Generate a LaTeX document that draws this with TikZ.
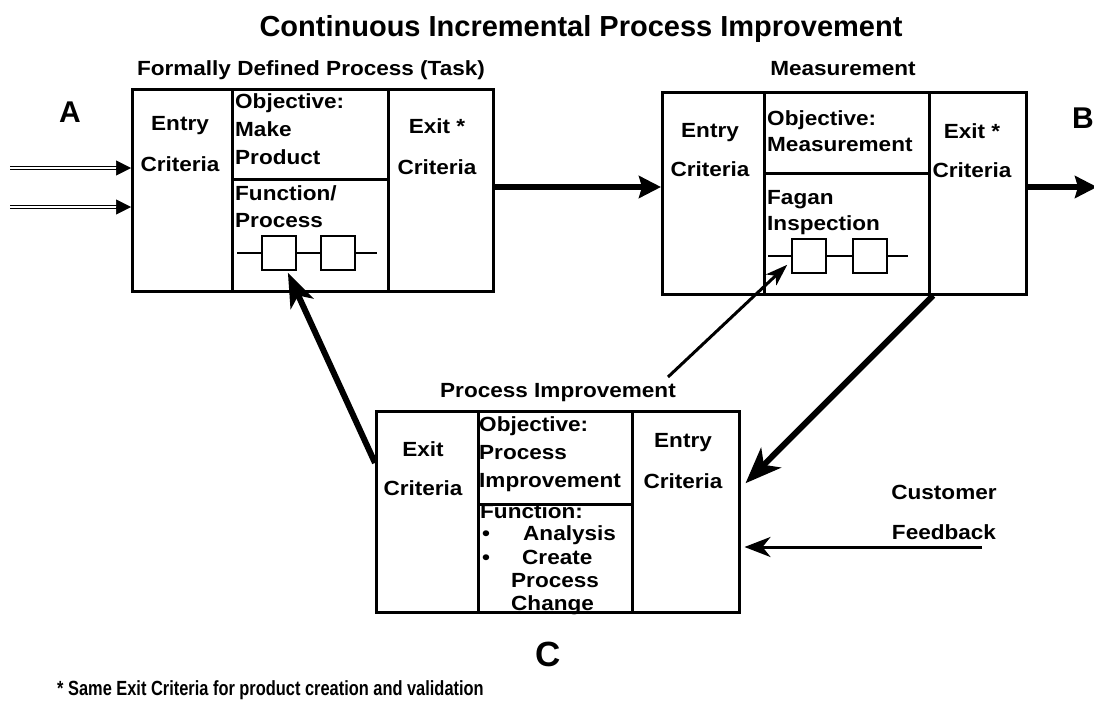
\documentclass[tikz,border=0pt]{standalone}
\usepackage{fontspec}
\setmainfont{Liberation Sans}
\newfontfamily\wide{Liberation Sans}[FakeStretch=1.1]
\newfontfamily\narrow{Liberation Sans}[FakeStretch=0.8]
\usetikzlibrary{positioning,calc,arrows.meta}

\begin{document}
\begin{tikzpicture}[
    x=1pt, y=-1pt,
    cell/.style={draw, line width=2.5pt, inner sep=0pt, anchor=north west},
    sq/.style={draw, line width=1.5pt, minimum size=34pt, inner sep=0pt},
    wire/.style={line width=1.5pt},
    txt/.style={font=\wide\bfseries\fontsize{20.5}{41}\selectfont, inner sep=0pt, align=center, anchor=north},
    obj/.style={font=\wide\bfseries\fontsize{20.5}{28}\selectfont, inner sep=0pt, align=left, anchor=north west},
    lbl/.style={font=\wide\bfseries\fontsize{20.5}{24}\selectfont, inner sep=0pt, anchor=base},
    big/.style={font=\bfseries\fontsize{30}{36}\selectfont, inner sep=0pt},
    fat/.style={line width=6pt, -{Stealth[length=22pt,width=22pt,inset=3pt]}},
    slim/.style={line width=3pt, -{Stealth[length=22pt,width=15pt,inset=6pt]}},
    dbl/.style={double, line width=1.3pt, double distance=2.2pt, shorten >=14pt},
    tipA/.style={line width=0.5pt, -{Triangle[length=15pt,width=15pt]}},
  ]
    \useasboundingbox (0,0) rectangle (1094,704);

    % titles
    \node[font=\bfseries\fontsize{29}{34}\selectfont, anchor=base, inner sep=0pt] (title) at (581,36)
      {Continuous Incremental Process Improvement};
    \node[lbl] (fdp) at (311,75) {Formally Defined Process (Task)};
    \node[lbl] (meas) at (843,75) {Measurement};
    \node[lbl] (pimp) at (558,397) {Process Improvement};
    \node[big] (A) at (70,112) {A};
    \node[big, anchor=base east] (B) at (1094,128) {B};
    \node[big, font=\bfseries\fontsize{35}{40}\selectfont] (C) at (548,654) {C};

    % formally defined process
    \node[cell, minimum width=100pt, minimum height=202pt] (en1) at (131,88) {};
    \node[cell, minimum width=156pt, minimum height=90pt]  (ob1) at (231,88) {};
    \node[cell, minimum width=156pt, minimum height=112pt] (fn1) at (231,178) {};
    \node[cell, minimum width=105pt, minimum height=202pt] (ex1) at (387,88) {};
    \node[txt] (en1t) at (180,116) {Entry\\Criteria};
    \node[txt] (ex1t) at (437,118) {Exit *\\Criteria};
    \node[obj] (ob1t) at (235,93) {Objective:\\Make\\Product};
    \node[obj, font=\wide\bfseries\fontsize{20.5}{27}\selectfont] (fn1t) at (235,185) {Function/\\Process};
    \node[sq] (sq1a) at (279,253) {};
    \node[sq] (sq1b) at (338,253) {};
    \coordinate (w1s) at (237,253);
    \coordinate (w1e) at (377,253);
    \draw[wire] (w1s) -- (sq1a.west);
    \draw[wire] (sq1a.east) -- (sq1b.west);
    \draw[wire] (sq1b.east) -- (w1e);

    % measurement
    \node[cell, minimum width=102pt, minimum height=202pt] (en2) at (661,91) {};
    \node[cell, minimum width=165pt, minimum height=81pt]  (ob2) at (763,91) {};
    \node[cell, minimum width=165pt, minimum height=121pt] (fn2) at (763,172) {};
    \node[cell, minimum width=97pt,  minimum height=202pt] (ex2) at (928,91) {};
    \node[txt, font=\wide\bfseries\fontsize{20.5}{39}\selectfont] (en2t) at (710,123) {Entry\\Criteria};
    \node[txt, font=\wide\bfseries\fontsize{20.5}{39}\selectfont] (ex2t) at (972,123) {Exit *\\Criteria};
    \node[obj, font=\wide\bfseries\fontsize{20.5}{26}\selectfont] (ob2t) at (767,110) {Objective:\\Measurement};
    \node[obj, font=\wide\bfseries\fontsize{20.5}{26}\selectfont] (fn2t) at (767,190) {Fagan\\Inspection};
    \node[sq] (sq2a) at (809,256) {};
    \node[sq] (sq2b) at (870,256) {};
    \coordinate (w2s) at (768,256);
    \coordinate (w2e) at (908,256);
    \draw[wire] (w2s) -- (sq2a.west);
    \draw[wire] (sq2a.east) -- (sq2b.west);
    \draw[wire] (sq2b.east) -- (w2e);

    % process improvement
    \node[cell, minimum width=102pt, minimum height=201pt] (ex3) at (375,410) {};
    \node[cell, minimum width=154pt, minimum height=93pt]  (ob3) at (477,410) {};
    \node[cell, minimum width=154pt, minimum height=108pt] (fn3) at (477,503) {};
    \node[cell, minimum width=107pt, minimum height=201pt] (en3) at (631,410) {};
    \node[txt, font=\wide\bfseries\fontsize{20.5}{39}\selectfont] (ex3t) at (423,441) {Exit\\Criteria};
    \node[txt] (en3t) at (683,433) {Entry\\Criteria};
    \node[obj] (ob3t) at (479,416) {Objective:\\Process\\Improvement};
    \node[obj] (fn3t) at (480,503) {Function:};
    \node[lbl] (bu1) at (486,540) {\textbullet};
    \node[lbl] (bu2) at (486,564) {\textbullet};
    \node[lbl, anchor=base west] (an3) at (523,540) {Analysis};
    \node[lbl, anchor=base west] (cr3) at (522,564) {Create};
    \node[lbl, anchor=base west] (pr3) at (511,587) {Process};
    \node[lbl, anchor=base west] (ch3) at (511,610) {Change};

    % customer feedback
    \node[lbl] (cust) at (944,499) {Customer};
    \node[lbl] (feed) at (944,539) {Feedback};

    % footnote
    \node[font=\narrow\bfseries\fontsize{20.5}{24}\selectfont, anchor=base west, inner sep=0pt] (note) at (57,695)
      {* Same Exit Criteria for product creation and validation};

    % inputs at A
    \coordinate (inA1) at (10,168);
    \coordinate (inA2) at (10,207);
    \draw[dbl] (inA1) -- (inA1 -| en1.west);
    \draw[dbl] (inA2) -- (inA2 -| en1.west);
    \draw[tipA] ([xshift=-15pt]inA1 -| en1.west) -- (inA1 -| en1.west);
    \draw[tipA] ([xshift=-15pt]inA2 -| en1.west) -- (inA2 -| en1.west);

    % flow
    \coordinate (outB) at (1097,187);
    \coordinate (cfb) at (982,547);
    \coordinate (t3) at (668,377);
    \draw[fat] (ex1.east |- outB) -- (en2.west |- outB);
    \draw[fat] (ex2.east |- outB) -- (outB);
    \draw[fat, -{Stealth[length=34pt,width=25pt,inset=9pt]}]
      ($(ex3.north west)!0.26!(ex3.south west)$) -- ($(sq1a.south)!0.5!(sq1a.south east)+(0,2)$);
    \draw[fat, -{Stealth[length=36pt,width=28pt,inset=10pt]}]
      ([xshift=5pt]ex2.south west) -- ($(en3.north east)!0.36!(en3.south east)+(5,0)$);
    \draw[slim] (t3) -- ($(sq2a.south west)+(-4,-9)$);
    \draw[slim, -{Stealth[length=26pt,width=20pt,inset=8pt]}] (cfb) -- ([xshift=4pt]cfb -| en3.east);
\end{tikzpicture}
\end{document}
